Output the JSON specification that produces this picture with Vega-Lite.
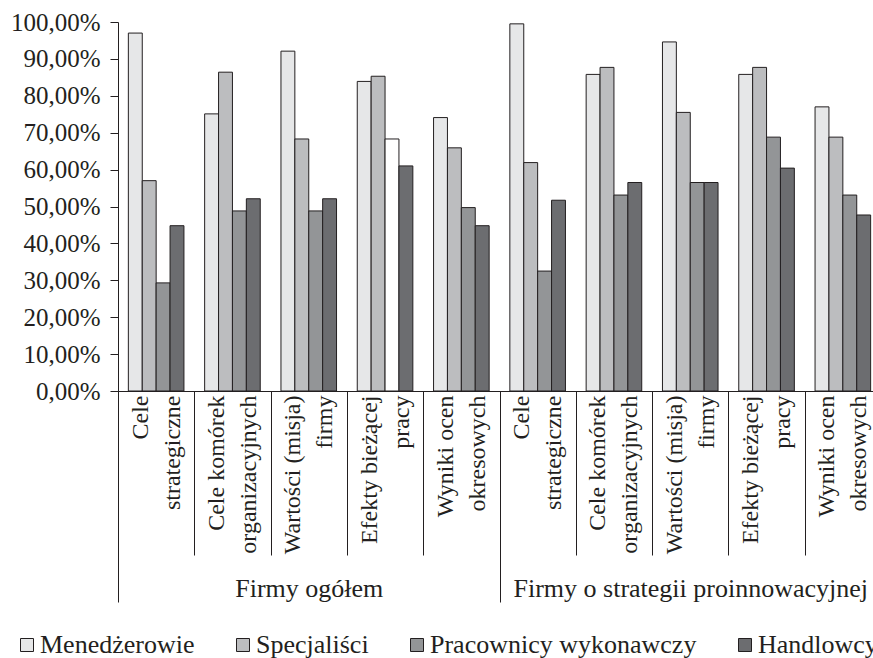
{
  "$schema": "https://vega.github.io/schema/vega-lite/v6.json",
  "width": 763,
  "height": 369,
  "autosize": {"type": "none"},
  "padding": {"left": 118, "top": 22, "right": 0, "bottom": 267},
  "background": "white",
  "config": {
    "view": {"stroke": null},
    "font": "Liberation Serif",
    "axis": {"labelFont": "Liberation Serif", "labelColor": "#231f20", "domainColor": "#231f20", "tickColor": "#231f20", "domainWidth": 1, "tickWidth": 1, "grid": false}
  },
  "data": {
    "values": [
      {"group": "Firmy ogółem", "item": "Firmy ogółem|Cele|strategiczne", "series": "Menedżerowie", "value": 97.0},
      {"group": "Firmy ogółem", "item": "Firmy ogółem|Cele|strategiczne", "series": "Specjaliści", "value": 57.0},
      {"group": "Firmy ogółem", "item": "Firmy ogółem|Cele|strategiczne", "series": "Pracownicy wykonawczy", "value": 29.3},
      {"group": "Firmy ogółem", "item": "Firmy ogółem|Cele|strategiczne", "series": "Handlowcy", "value": 44.8},
      {"group": "Firmy ogółem", "item": "Firmy ogółem|Cele komórek|organizacyjnych", "series": "Menedżerowie", "value": 75.1},
      {"group": "Firmy ogółem", "item": "Firmy ogółem|Cele komórek|organizacyjnych", "series": "Specjaliści", "value": 86.4},
      {"group": "Firmy ogółem", "item": "Firmy ogółem|Cele komórek|organizacyjnych", "series": "Pracownicy wykonawczy", "value": 48.8},
      {"group": "Firmy ogółem", "item": "Firmy ogółem|Cele komórek|organizacyjnych", "series": "Handlowcy", "value": 52.1},
      {"group": "Firmy ogółem", "item": "Firmy ogółem|Wartości (misja)|firmy", "series": "Menedżerowie", "value": 92.1},
      {"group": "Firmy ogółem", "item": "Firmy ogółem|Wartości (misja)|firmy", "series": "Specjaliści", "value": 68.3},
      {"group": "Firmy ogółem", "item": "Firmy ogółem|Wartości (misja)|firmy", "series": "Pracownicy wykonawczy", "value": 48.8},
      {"group": "Firmy ogółem", "item": "Firmy ogółem|Wartości (misja)|firmy", "series": "Handlowcy", "value": 52.1},
      {"group": "Firmy ogółem", "item": "Firmy ogółem|Efekty bieżącej|pracy", "series": "Menedżerowie", "value": 83.9},
      {"group": "Firmy ogółem", "item": "Firmy ogółem|Efekty bieżącej|pracy", "series": "Specjaliści", "value": 85.3},
      {"group": "Firmy ogółem", "item": "Firmy ogółem|Efekty bieżącej|pracy", "series": "Pracownicy wykonawczy", "value": 68.3},
      {"group": "Firmy ogółem", "item": "Firmy ogółem|Efekty bieżącej|pracy", "series": "Handlowcy", "value": 61.0},
      {"group": "Firmy ogółem", "item": "Firmy ogółem|Wyniki ocen|okresowych", "series": "Menedżerowie", "value": 74.1},
      {"group": "Firmy ogółem", "item": "Firmy ogółem|Wyniki ocen|okresowych", "series": "Specjaliści", "value": 65.9},
      {"group": "Firmy ogółem", "item": "Firmy ogółem|Wyniki ocen|okresowych", "series": "Pracownicy wykonawczy", "value": 49.7},
      {"group": "Firmy ogółem", "item": "Firmy ogółem|Wyniki ocen|okresowych", "series": "Handlowcy", "value": 44.8},
      {"group": "Firmy o strategii proinnowacyjnej", "item": "Firmy o strategii proinnowacyjnej|Cele|strategiczne", "series": "Menedżerowie", "value": 99.5},
      {"group": "Firmy o strategii proinnowacyjnej", "item": "Firmy o strategii proinnowacyjnej|Cele|strategiczne", "series": "Specjaliści", "value": 61.9},
      {"group": "Firmy o strategii proinnowacyjnej", "item": "Firmy o strategii proinnowacyjnej|Cele|strategiczne", "series": "Pracownicy wykonawczy", "value": 32.5},
      {"group": "Firmy o strategii proinnowacyjnej", "item": "Firmy o strategii proinnowacyjnej|Cele|strategiczne", "series": "Handlowcy", "value": 51.7},
      {"group": "Firmy o strategii proinnowacyjnej", "item": "Firmy o strategii proinnowacyjnej|Cele komórek|organizacyjnych", "series": "Menedżerowie", "value": 85.8},
      {"group": "Firmy o strategii proinnowacyjnej", "item": "Firmy o strategii proinnowacyjnej|Cele komórek|organizacyjnych", "series": "Specjaliści", "value": 87.7},
      {"group": "Firmy o strategii proinnowacyjnej", "item": "Firmy o strategii proinnowacyjnej|Cele komórek|organizacyjnych", "series": "Pracownicy wykonawczy", "value": 53.1},
      {"group": "Firmy o strategii proinnowacyjnej", "item": "Firmy o strategii proinnowacyjnej|Cele komórek|organizacyjnych", "series": "Handlowcy", "value": 56.5},
      {"group": "Firmy o strategii proinnowacyjnej", "item": "Firmy o strategii proinnowacyjnej|Wartości (misja)|firmy", "series": "Menedżerowie", "value": 94.6},
      {"group": "Firmy o strategii proinnowacyjnej", "item": "Firmy o strategii proinnowacyjnej|Wartości (misja)|firmy", "series": "Specjaliści", "value": 75.5},
      {"group": "Firmy o strategii proinnowacyjnej", "item": "Firmy o strategii proinnowacyjnej|Wartości (misja)|firmy", "series": "Pracownicy wykonawczy", "value": 56.5},
      {"group": "Firmy o strategii proinnowacyjnej", "item": "Firmy o strategii proinnowacyjnej|Wartości (misja)|firmy", "series": "Handlowcy", "value": 56.5},
      {"group": "Firmy o strategii proinnowacyjnej", "item": "Firmy o strategii proinnowacyjnej|Efekty bieżącej|pracy", "series": "Menedżerowie", "value": 85.8},
      {"group": "Firmy o strategii proinnowacyjnej", "item": "Firmy o strategii proinnowacyjnej|Efekty bieżącej|pracy", "series": "Specjaliści", "value": 87.7},
      {"group": "Firmy o strategii proinnowacyjnej", "item": "Firmy o strategii proinnowacyjnej|Efekty bieżącej|pracy", "series": "Pracownicy wykonawczy", "value": 68.8},
      {"group": "Firmy o strategii proinnowacyjnej", "item": "Firmy o strategii proinnowacyjnej|Efekty bieżącej|pracy", "series": "Handlowcy", "value": 60.4},
      {"group": "Firmy o strategii proinnowacyjnej", "item": "Firmy o strategii proinnowacyjnej|Wyniki ocen|okresowych", "series": "Menedżerowie", "value": 77.0},
      {"group": "Firmy o strategii proinnowacyjnej", "item": "Firmy o strategii proinnowacyjnej|Wyniki ocen|okresowych", "series": "Specjaliści", "value": 68.8},
      {"group": "Firmy o strategii proinnowacyjnej", "item": "Firmy o strategii proinnowacyjnej|Wyniki ocen|okresowych", "series": "Pracownicy wykonawczy", "value": 53.1},
      {"group": "Firmy o strategii proinnowacyjnej", "item": "Firmy o strategii proinnowacyjnej|Wyniki ocen|okresowych", "series": "Handlowcy", "value": 47.7}
    ]
  },
  "layer": [
    {
      "mark": {"type": "bar", "stroke": "#231f20", "strokeWidth": 1},
      "encoding": {
        "x": {
          "field": "item", "type": "nominal", "sort": null,
          "scale": {"paddingInner": 0, "paddingOuter": 0},
          "axis": {
            "title": null, "orient": "bottom", "labelAngle": 270, "labelAlign": "right", "labelBaseline": "middle",
            "labelExpr": "slice(split(datum.value, '|'), 1)",
            "labelFontSize": 24, "labelLineHeight": 32, "labelPadding": -160, "labelOffset": -16,
            "tickBand": "extent", "tickSize": 164, "labelOverlap": false, "labelBound": false, "labelFlush": false, "labelLimit": 300
          }
        },
        "xOffset": {
          "field": "series", "type": "nominal",
          "sort": ["Menedżerowie", "Specjaliści", "Pracownicy wykonawczy", "Handlowcy"],
          "scale": {"paddingInner": 0, "paddingOuter": 0.745}
        },
        "y": {
          "field": "value", "type": "quantitative",
          "scale": {"domain": [0, 100], "nice": false},
          "axis": {
            "title": null, "values": [0, 10, 20, 30, 40, 50, 60, 70, 80, 90, 100],
            "labelExpr": "replace(format(datum.value, '.2f'), '.', ',') + '%'",
            "labelFontSize": 25, "tickSize": 8, "labelPadding": 10
          }
        },
        "fill": {
          "condition": {"test": "datum.item === 'Firmy ogółem|Efekty bieżącej|pracy' && datum.series === 'Pracownicy wykonawczy'", "value": "#ffffff"},
          "field": "series", "type": "nominal",
          "scale": {"domain": ["Menedżerowie", "Specjaliści", "Pracownicy wykonawczy", "Handlowcy"], "range": ["#e6e7e8", "#bcbdbf", "#939597", "#6c6d70"]},
          "legend": {
            "orient": "none", "legendX": -104, "legendY": 610, "direction": "horizontal", "title": null,
            "symbolType": "square", "symbolSize": 169, "symbolStrokeColor": "#231f20", "symbolStrokeWidth": 1, "symbolOpacity": 1,
            "labelFont": "Liberation Serif", "labelFontSize": 26, "labelColor": "#231f20", "labelOffset": 0,
            "columnPadding": 35, "padding": 0, "labelLimit": 400
          }
        }
      }
    },
    {
      "mark": {"type": "bar", "opacity": 0},
      "encoding": {
        "x": {
          "field": "group", "type": "nominal", "sort": null,
          "scale": {"paddingInner": 0, "paddingOuter": 0},
          "axis": {
            "title": null, "orient": "bottom", "labelAngle": 0, "labelAlign": "center", "labelBaseline": "top",
            "labelFontSize": 26, "labelPadding": -27, "tickBand": "extent", "tickSize": 211, "domain": false,
            "labelOverlap": false, "labelBound": false, "labelFlush": false, "labelLimit": 600
          }
        }
      }
    }
  ],
  "resolve": {"scale": {"x": "independent"}, "axis": {"x": "independent"}}
}
